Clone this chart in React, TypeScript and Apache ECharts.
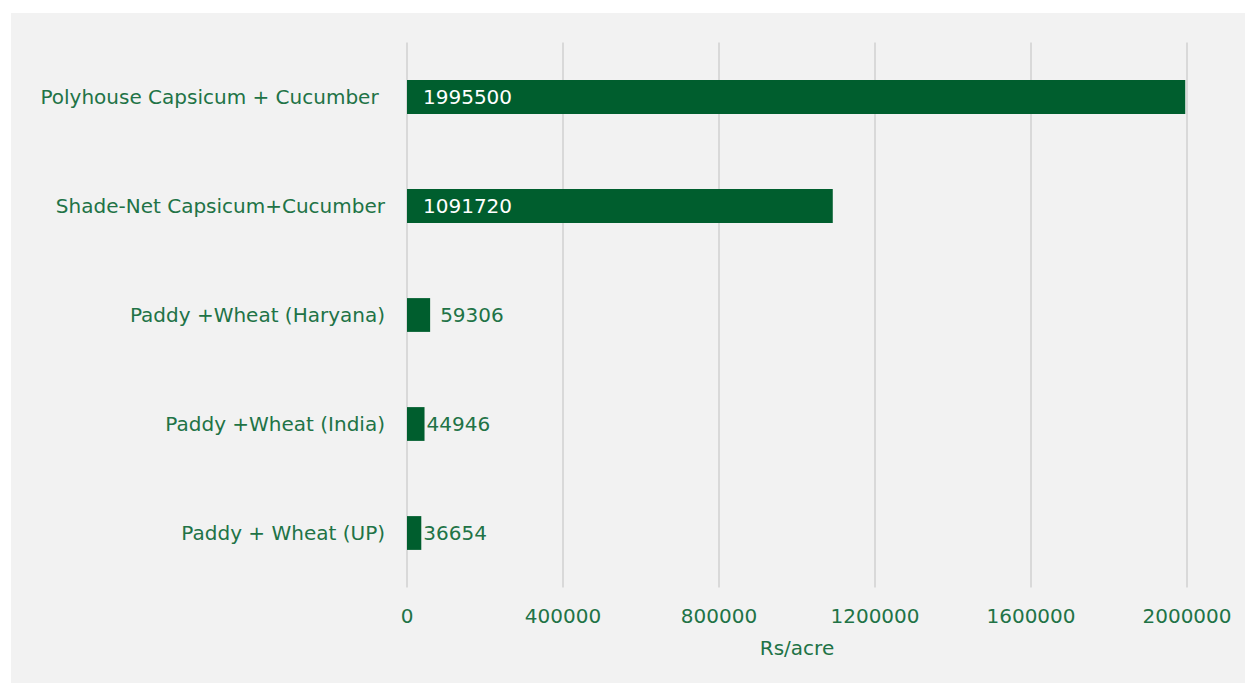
import React, { useEffect, useRef } from "react";
import * as echarts from "echarts";

const categories = [
  "Paddy + Wheat (UP)",
  "Paddy +Wheat (India)",
  "Paddy +Wheat (Haryana)",
  "Shade-Net Capsicum+Cucumber",
  "Polyhouse Capsicum + Cucumber ",
];
const values = [36654, 44946, 59306, 1091720, 1995500];
const insideLabel = [false, false, false, true, true];
const outsideGap = [2, 2, 10, 0, 0];

const GREEN_TEXT = "#217346";
const BAR = "#005e2e";
const FONT = "DejaVu Sans";
const FS = 20;
const FW = "normal";

export default function App() {
  const ref = useRef<HTMLDivElement>(null);
  useEffect(() => {
    document.body.style.margin = "0";
    const chart = echarts.init(ref.current!, null, { renderer: "svg" });
    chart.setOption({
      animation: false,
      backgroundColor: "#f2f2f2",
      textStyle: { fontFamily: FONT },
      grid: { left: 396, right: 58, top: 29.5, bottom: 95.5, containLabel: false },
      xAxis: {
        type: "value",
        min: 0,
        max: 2000000,
        interval: 400000,
        name: "Rs/acre",
        nameLocation: "middle",
        nameGap: 50,
        nameTextStyle: { color: GREEN_TEXT, fontSize: FS, fontFamily: FONT, fontWeight: FW },
        axisLine: { show: false },
        axisTick: { show: false },
        axisLabel: { color: GREEN_TEXT, fontSize: FS, margin: 18, fontFamily: FONT, fontWeight: FW, formatter: (v: number) => String(v) },
        splitLine: { show: true, lineStyle: { color: "#d9d9d9", width: 2 } },
      },
      yAxis: {
        type: "category",
        data: categories,
        axisLine: { show: false },
        axisTick: { show: false },
        axisLabel: { color: GREEN_TEXT, fontSize: FS, margin: 22, fontFamily: FONT, fontWeight: FW },
      },
      series: [
        {
          type: "bar",
          barWidth: "31%",
          itemStyle: { color: BAR },
          data: values.map((v, i) => ({
            value: v,
            label: insideLabel[i]
              ? { show: true, position: "insideLeft", distance: 16, color: "#ffffff", fontSize: FS, fontFamily: FONT, fontWeight: FW }
              : { show: true, position: "right", distance: outsideGap[i], color: GREEN_TEXT, fontSize: FS, fontFamily: FONT, fontWeight: FW },
          })),
        },
      ],
    });
    return () => chart.dispose();
  }, []);
  return (
    <div style={{ position: "fixed", left: 0, top: 0, width: 1245, height: 683, background: "#ffffff" }}>
      <div ref={ref} style={{ position: "absolute", left: 11, top: 13, width: 1234, height: 670 }} />
    </div>
  );
}
